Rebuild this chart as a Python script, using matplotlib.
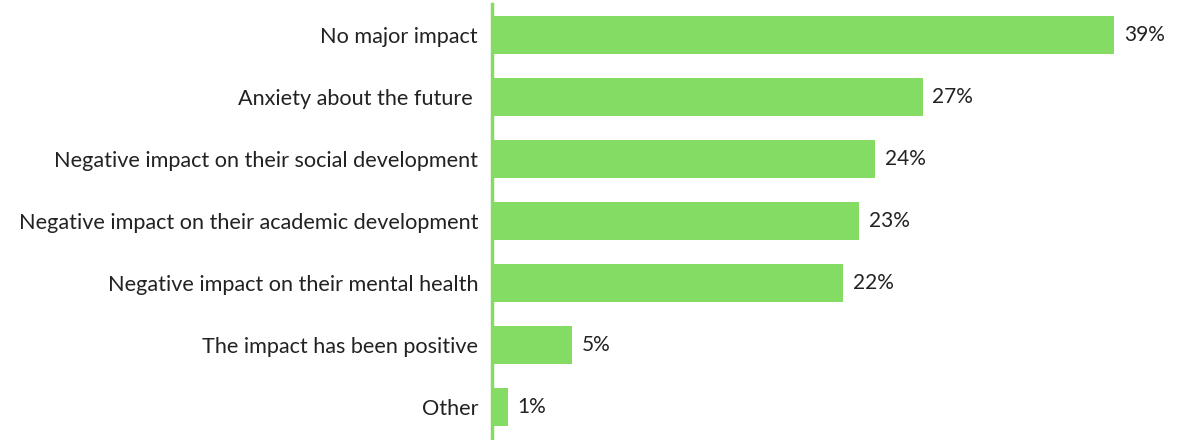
import matplotlib
matplotlib.use("Agg")
import matplotlib.pyplot as plt

categories = [
    "No major impact",
    "Anxiety about the future ",
    "Negative impact on their social development",
    "Negative impact on their academic development",
    "Negative impact on their mental health",
    "The impact has been positive",
    "Other",
]
values = [39, 27, 24, 23, 22, 5, 1]
value_labels = ["39%", "27%", "24%", "23%", "22%", "5%", "1%"]

bar_color = "#84DC64"
text_color = "#222222"

plt.rcParams["font.family"] = ["Lato", "DejaVu Sans"]

fig = plt.figure(figsize=(11.94, 4.4), dpi=100)
ax = fig.add_axes([492 / 1194, 2 / 440, 702 / 1194, 434 / 440])

ypos = list(range(len(categories)))
ax.barh(ypos, values, height=0.61, color=bar_color, left=0)
ax.set_ylim(len(categories) - 0.5, -0.5)
ax.set_xlim(0, 44.0)

for y, v, lab in zip(ypos, values, value_labels):
    ax.annotate(lab, (v, y), xytext=(7, 0), textcoords="offset points",
                va="center", ha="left", fontsize=15, color=text_color)

ax.set_yticks(ypos)
ax.set_yticklabels(categories, fontsize=15.6, color=text_color)
ax.tick_params(axis="y", length=0, pad=10)
ax.set_xticks([])

for side in ["top", "right", "bottom"]:
    ax.spines[side].set_visible(False)
ax.spines["left"].set_color(bar_color)
ax.spines["left"].set_linewidth(2.5)

fig.savefig("out.png", dpi=100)
